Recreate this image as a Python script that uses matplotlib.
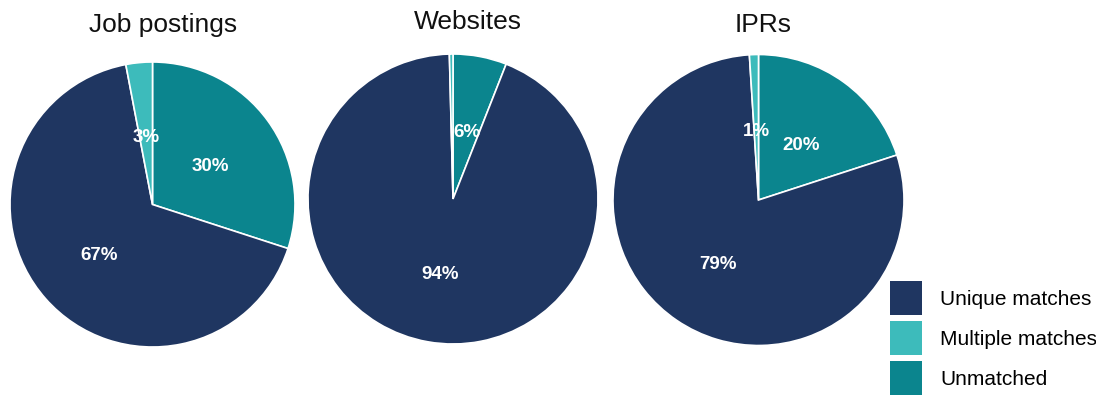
import numpy as np
import matplotlib.pyplot as plt
from matplotlib.patches import Patch

plt.rcParams['font.family'] = ['Liberation Sans', 'DejaVu Sans']

sources = ['Job postings', 'Websites', 'IPRs']
unique = [67, 94, 79]
multiple = [3, 0.4, 1]
unmatched = [30, 6, 20]

categories = ['Unique matches', 'Multiple matches', 'Unmatched']
colors = {'Unique matches': '#1F3661', 'Multiple matches': '#3DBBBB', 'Unmatched': '#0B858E'}

W, H = 1096, 396
# pie centre (px), radius (px), title position (px)
layout = [((152.5, 204.5), 142.5, (163, 25)),
          ((453, 199), 145, (468, 22)),
          ((758.5, 200), 145.5, (763, 25))]

fig = plt.figure(figsize=(W / 100, H / 100), dpi=100)

for i, name in enumerate(sources):
    (cx, cy), r, (tx, ty) = layout[i]
    ax = fig.add_axes([(cx - r) / W, (H - cy - r) / H, 2 * r / W, 2 * r / H])
    vals = [unmatched[i], unique[i], multiple[i]]
    cols = [colors['Unmatched'], colors['Unique matches'], colors['Multiple matches']]
    wedges, _ = ax.pie(vals, colors=cols, startangle=90, counterclock=False,
                       radius=1, wedgeprops=dict(edgecolor='white', linewidth=1.2))
    ax.set_xlim(-1, 1)
    ax.set_ylim(-1, 1)
    ax.set_aspect('equal')
    ax.axis('off')
    for w, v in zip(wedges, vals):
        if v < 1:
            continue
        ang = np.deg2rad((w.theta1 + w.theta2) / 2)
        ax.text(0.5 * np.cos(ang), 0.5 * np.sin(ang) - 0.03, f'{v:.0f}%',
                ha='center', va='center', color='white', fontsize=13.5, fontweight='bold')
    fig.text(tx / W, 1 - ty / H, name, ha='center', va='center', fontsize=19, color='#111111')

handles = [Patch(facecolor=colors[c], edgecolor='none') for c in categories]
fig.legend(handles, categories, loc='upper left', bbox_to_anchor=(890 / W, 1 - 281 / H),
           frameon=False, fontsize=15, borderpad=0, borderaxespad=0,
           handlelength=1.55, handleheight=2.14, handletextpad=0.85, labelspacing=0.29)

fig.savefig('out.png', dpi=100)
